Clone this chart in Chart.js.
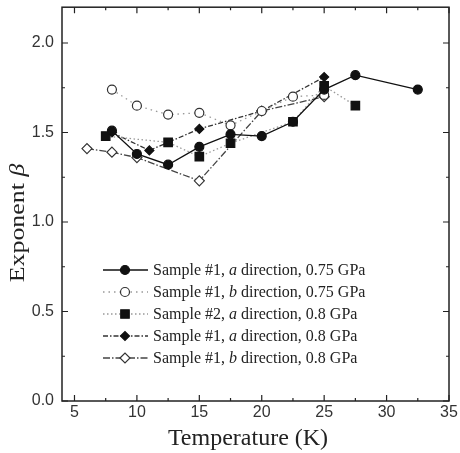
<!DOCTYPE html>
<html>
<head>
<meta charset="utf-8">
<script src="https://cdn.jsdelivr.net/npm/chart.js@4.4.0/dist/chart.umd.min.js"></script>
<style>
  html, body { margin: 0; padding: 0; background: #fff; }
</style>
</head>
<body>
<canvas id="myChart" width="460" height="453"></canvas>
<script>
// tick values
const xTicks = [5, 10, 15, 20, 25, 30, 35];
const yTicks = [0.0, 0.5, 1.0, 1.5, 2.0];

// Sample #1, a direction, 0.75 GPa
const tempS1a075 = [8, 10, 12.5, 15, 17.5, 20, 22.5, 25, 27.5, 32.5];
const betaS1a075 = [1.51, 1.38, 1.32, 1.42, 1.49, 1.48, 1.56, 1.74, 1.82, 1.74];
// Sample #1, b direction, 0.75 GPa
const tempS1b075 = [8, 10, 12.5, 15, 17.5, 20, 22.5, 25];
const betaS1b075 = [1.74, 1.65, 1.60, 1.61, 1.54, 1.62, 1.70, 1.71];
// Sample #2, a direction, 0.8 GPa
const tempS2a08 = [7.5, 12.5, 15, 17.5, 22.5, 25, 27.5];
const betaS2a08 = [1.48, 1.445, 1.365, 1.44, 1.56, 1.76, 1.65];
// Sample #1, a direction, 0.8 GPa
const tempS1a08 = [8, 11, 15, 20, 25];
const betaS1a08 = [1.50, 1.40, 1.52, 1.62, 1.81];
// Sample #1, b direction, 0.8 GPa
const tempS1b08 = [6, 8, 10, 15, 20, 25];
const betaS1b08 = [1.41, 1.39, 1.36, 1.23, 1.62, 1.70];

// legend text pieces: [before, italic, after]
const legendSample = ["Sample #1, ", "Sample #1, ", "Sample #2, ", "Sample #1, ", "Sample #1, "];
const legendDir = ["a", "b", "a", "a", "b"];
const legendRest = [" direction, 0.75 GPa", " direction, 0.75 GPa", " direction, 0.8 GPa", " direction, 0.8 GPa", " direction, 0.8 GPa"];

function pts(xs, ys) {
	return xs.map((x, i) => ({ x: x, y: ys[i] }));
}

const styles = [
	{ line: "#111", dash: [], point: "circle", r: 4.5, fill: "#111", stroke: "#111" },
	{ line: "#999", dash: [1.5, 4], point: "circle", r: 4.5, fill: "#fff", stroke: "#333" },
	{ line: "#999", dash: [1.5, 2.5], point: "rect", r: 6, fill: "#111", stroke: "#111" },
	{ line: "#333", dash: [5, 2, 1.5, 2], point: "rectRot", r: 4.5, fill: "#111", stroke: "#111" },
	{ line: "#444", dash: [7, 2, 1.5, 2], point: "rectRot", r: 5, fill: "#fff", stroke: "#333" }
];

const series = [
	pts(tempS1a075, betaS1a075),
	pts(tempS1b075, betaS1b075),
	pts(tempS2a08, betaS2a08),
	pts(tempS1a08, betaS1a08),
	pts(tempS1b08, betaS1b08)
];

const datasets = series.map((d, i) => ({
	label: legendSample[i] + legendDir[i] + legendRest[i],
	data: d,
	showLine: true,
	borderColor: styles[i].line,
	borderWidth: 1.3,
	borderDash: styles[i].dash,
	pointStyle: styles[i].point,
	pointRadius: styles[i].r,
	pointBackgroundColor: styles[i].fill,
	pointBorderColor: styles[i].stroke,
	pointBorderWidth: 1.2,
	fill: false
}));

function drawMarker(ctx, st, x, y) {
	ctx.save();
	ctx.setLineDash([]);
	ctx.beginPath();
	if (st.point == "circle") {
		ctx.arc(x, y, st.r, 0, Math.PI * 2);
	} else if (st.point == "rect") {
		const s = st.r * Math.SQRT1_2;
		ctx.rect(x - s, y - s, 2 * s, 2 * s);
	} else {
		ctx.moveTo(x - st.r, y);
		ctx.lineTo(x, y - st.r);
		ctx.lineTo(x + st.r, y);
		ctx.lineTo(x, y + st.r);
		ctx.closePath();
	}
	ctx.fillStyle = st.fill;
	ctx.fill();
	ctx.lineWidth = 1.2;
	ctx.strokeStyle = st.stroke;
	ctx.stroke();
	ctx.restore();
}

// frame, inward ticks, titles and legend
const decorations = {
	id: "decorations",
	afterDraw(chart) {
		const ctx = chart.ctx;
		const a = chart.chartArea;
		const xs = chart.scales.x, ys = chart.scales.y;
		ctx.save();
		ctx.strokeStyle = "#222";
		ctx.lineWidth = 1.5;
		ctx.strokeRect(a.left, a.top, a.right - a.left, a.bottom - a.top);

		ctx.lineWidth = 1.2;
		ctx.beginPath();
		for (let v = 5; v <= 35; v += 2.5) {
			const px = xs.getPixelForValue(v);
			const len = (v % 5 == 0) ? 6 : 3;
			ctx.moveTo(px, a.bottom); ctx.lineTo(px, a.bottom - len);
			ctx.moveTo(px, a.top); ctx.lineTo(px, a.top + len);
		}
		for (let v = 0; v <= 2.2; v += 0.25) {
			const py = ys.getPixelForValue(v);
			const len = (Math.abs(v * 2 - Math.round(v * 2)) < 0.01) ? 6 : 3;
			ctx.moveTo(a.left, py); ctx.lineTo(a.left + len, py);
			ctx.moveTo(a.right, py); ctx.lineTo(a.right - len, py);
		}
		ctx.stroke();

		// axis titles
		ctx.fillStyle = "#222";
		ctx.font = '24px "Liberation Serif"';
		ctx.textAlign = "center";
		ctx.textBaseline = "alphabetic";
		ctx.fillText("Temperature (K)", 248, 445);

		ctx.save();
		ctx.translate(24, 223);
		ctx.rotate(-Math.PI / 2);
		ctx.scale(1.08, 0.85);
		ctx.textAlign = "left";
		ctx.font = '24px "Liberation Serif"';
		const w1 = ctx.measureText("Exponent ").width;
		ctx.font = 'italic 24px "Liberation Serif"';
		const w2 = ctx.measureText("\u03B2").width;
		let x0 = -(w1 + w2) / 2;
		ctx.font = '24px "Liberation Serif"';
		ctx.fillText("Exponent ", x0, 0);
		ctx.font = 'italic 24px "Liberation Serif"';
		ctx.fillText("\u03B2", x0 + w1, 0);
		ctx.restore();

		// legend
		const rowY = [270, 292, 314, 336, 358];
		for (let i = 0; i < 5; i++) {
			const st = styles[i];
			const y = rowY[i];
			ctx.save();
			ctx.strokeStyle = st.line;
			ctx.lineWidth = 1.3;
			ctx.setLineDash(st.dash);
			ctx.beginPath();
			ctx.moveTo(103, y); ctx.lineTo(148, y);
			ctx.stroke();
			ctx.restore();
			drawMarker(ctx, st, 125, y);

			ctx.fillStyle = "#222";
			ctx.textAlign = "left";
			let tx = 153;
			ctx.font = '16px "Liberation Serif"';
			ctx.fillText(legendSample[i], tx, y + 5);
			tx += ctx.measureText(legendSample[i]).width;
			ctx.font = 'italic 16px "Liberation Serif"';
			ctx.fillText(legendDir[i], tx, y + 5);
			tx += ctx.measureText(legendDir[i]).width;
			ctx.font = '16px "Liberation Serif"';
			ctx.fillText(legendRest[i], tx, y + 5);
		}
		ctx.restore();
	}
};

new Chart("myChart", {
	type: "scatter",
	data: { datasets: datasets },
	options: {
		responsive: false,
		animation: false,
		layout: { padding: { left: 0, right: 11, top: -4, bottom: 0 } },
		plugins: {
			legend: { display: false },
			tooltip: { enabled: false }
		},
		scales: {
			x: {
				type: "linear",
				min: 4,
				max: 35,
				afterBuildTicks: (scale) => { scale.ticks = xTicks.map(v => ({ value: v })); },
				afterFit: (scale) => { scale.height = 52; scale.paddingLeft = 0; scale.paddingRight = 0; },
				grid: { display: false, drawTicks: false },
				border: { display: false },
				ticks: {
					padding: 2,
					color: "#333",
					font: { family: "Liberation Sans", size: 16 },
					maxRotation: 0
				}
			},
			y: {
				type: "linear",
				min: 0,
				max: 2.2,
				afterBuildTicks: (scale) => { scale.ticks = yTicks.map(v => ({ value: v })); },
				afterFit: (scale) => { scale.width = 62; scale.paddingTop = 0; scale.paddingBottom = 0; },
				grid: { display: false, drawTicks: false },
				border: { display: false },
				ticks: {
					padding: 8,
					color: "#333",
					font: { family: "Liberation Sans", size: 16 },
					callback: (v) => v.toFixed(1)
				}
			}
		}
	},
	plugins: [decorations]
});
</script>
</body>
</html>
